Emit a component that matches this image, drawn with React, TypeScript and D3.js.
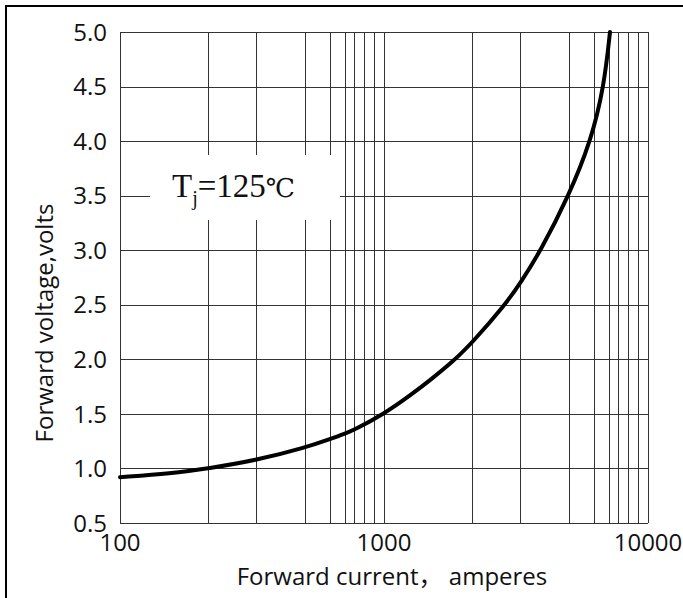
import React from "react";
import * as d3 from "d3";

// Forward current (A) vs forward voltage (V), Tj = 125 °C
const currents = [100, 150, 200, 300, 400, 500, 600, 700, 1000, 1230, 1440, 1740, 2000, 2640, 3000, 3390, 4000, 4870, 5640, 6080];
const voltages = [0.92, 0.955, 1.0, 1.075, 1.19, 1.27, 1.32, 1.355, 1.5, 1.67, 1.81, 1.99, 2.15, 2.5, 2.7, 3.0, 3.5, 4.0, 4.5, 5.0];

const xGridValues = [100, 200, 300, 400, 500, 600, 700, 800, 900, 1000, 2000, 3000, 4000, 5000, 6000, 7000, 8000, 9000, 10000];
const xTickLabels = [100, 1000, 10000];
const yTicks = [0.5, 1.0, 1.5, 2.0, 2.5, 3.0, 3.5, 4.0, 4.5, 5.0];

const xTitle = "Forward current， amperes";
const yTitle = "Forward voltage,volts";

// chart-paper spacing of mantissas 1..10 inside one decade (as printed on the original log paper)
const mantissas = [1, 2, 3, 4, 5, 6, 7, 8, 9, 10];
const paperFractions = [0, 0.333, 0.517, 0.7, 0.795, 0.853, 0.888, 0.926, 0.962, 1];

const W = 683;
const H = 598;
const M = { left: 120, top: 32, right: 648, bottom: 523 };

export default function App() {
  const decades = d3.scaleLog().domain([100, 10000]).range([0, 2]);
  const inDecade = d3
    .scaleLinear()
    .domain(mantissas.map(Math.log10))
    .range(paperFractions);
  const decadeWidth = (M.right - M.left) / 2;
  const x = (v: number) => {
    const t = decades(v);
    const d = Math.min(Math.floor(t + 1e-9), 1);
    return M.left + (d + inDecade(t - d)) * decadeWidth;
  };
  const y = d3.scaleLinear().domain([0.5, 5]).range([M.bottom, M.top]);

  const data = currents.map((c, i) => [c, voltages[i]] as [number, number]);
  const line = d3
    .line<[number, number]>()
    .x((d) => x(d[0]))
    .y((d) => y(d[1]))
    .curve(d3.curveBasis);

  const crisp = (v: number) => Math.round(v) + 0.5;
  const sans = "'Open Sans', 'Noto Sans', 'Noto Sans CJK SC', sans-serif";

  return (
    <svg
      width={W}
      height={H}
      style={{ position: "absolute", left: 0, top: 0, background: "#fff" }}
    >
      <rect x={0} y={0} width={W} height={H} fill="#fff" />
      <rect x={6} y={6} width={800} height={800} fill="none" stroke="#000" strokeWidth={2} />

      {/* grid */}
      <g stroke="#333" strokeWidth={1} shapeRendering="crispEdges">
        {xGridValues.map((v) => (
          <line key={"gx" + v} x1={crisp(x(v))} x2={crisp(x(v))} y1={M.top} y2={M.bottom} />
        ))}
        {yTicks.map((v) => (
          <line key={"gy" + v} x1={M.left} x2={M.right} y1={crisp(y(v))} y2={crisp(y(v))} />
        ))}
      </g>

      {/* annotation box */}
      <rect x={150} y={155} width={190} height={65} fill="#fff" />
      <text
        x={172}
        y={197}
        fontFamily="'Liberation Serif', 'Times New Roman', serif"
        fontSize={33}
        fill="#111"
      >
        T
        <tspan fontSize={20} dy={8}>j</tspan>
        <tspan dy={-8}>=125</tspan>
        <tspan fontFamily="'DejaVu Serif', 'Liberation Serif', serif" fontSize={26}>℃</tspan>
      </text>

      {/* curve */}
      <path d={line(data) || ""} fill="none" stroke="#000" strokeWidth={4} strokeLinecap="round" />

      {/* y tick labels */}
      {yTicks.map((v) => (
        <text
          key={"ty" + v}
          x={107}
          y={y(v)}
          dy="0.36em"
          textAnchor="end"
          fontFamily={sans}
          fontSize={24}
          fill="#111"
        >
          {v.toFixed(1)}
        </text>
      ))}

      {/* x tick labels */}
      {xTickLabels.map((v) => (
        <text
          key={"tx" + v}
          x={x(v)}
          y={551}
          textAnchor="middle"
          fontFamily={sans}
          fontSize={24}
          fill="#111"
        >
          {v}
        </text>
      ))}

      {/* axis titles */}
      <text x={392} y={585} textAnchor="middle" fontFamily={sans} fontSize={24} fill="#111">
        {xTitle}
      </text>
      <text
        transform={`translate(53, 323) rotate(-90)`}
        textAnchor="middle"
        fontFamily={sans}
        fontSize={24}
        fill="#111"
      >
        {yTitle}
      </text>
    </svg>
  );
}
